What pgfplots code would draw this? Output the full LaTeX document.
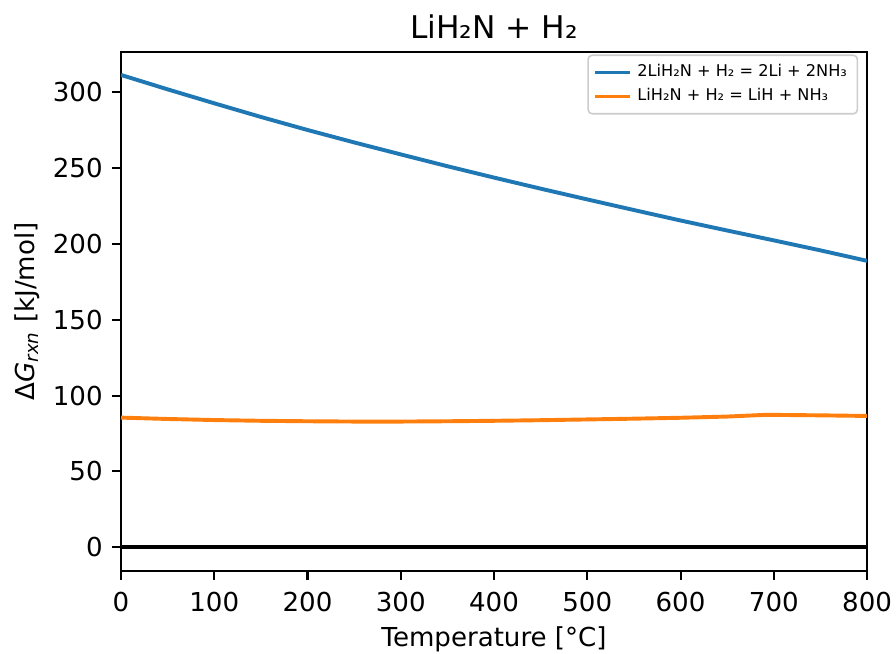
\documentclass[border=0pt]{standalone}
\usepackage{pgfplots}
\pgfplotsset{compat=1.18}
\usepackage{fontspec}
\setmainfont{DejaVu Sans}
\usetikzlibrary{calc}
\definecolor{tabblue}{HTML}{1F77B4}
\definecolor{taborange}{HTML}{FF7F0E}
\begin{document}
\begin{tikzpicture}
\begin{axis}[
  scale only axis,
  width=286.1pt, height=199.0pt,
  xmin=0, xmax=800,
  ymin=-15.56, ymax=326.7,
  xtick={0,100,...,800},
  ytick={0,50,...,300},
  xtick pos=left, ytick pos=left,
  tick align=outside,
  major tick length=3.5pt,
  every tick/.style={black, line width=0.8pt},
  axis line style={line width=0.8pt},
  tick label style={font=\fontsize{10}{12}\selectfont},
  /pgf/number format/assume math mode=true,
  xticklabel style={yshift=-1pt},
  title={LiH₂N + H₂},
  title style={font=\fontsize{12}{14}\selectfont, yshift=-4.5pt},
  xlabel={Temperature [°C]},
  ylabel={Δ\textit{G}\textsubscript{\textit{rxn}} [kJ/mol]},
  label style={font=\fontsize{10}{12}\selectfont},
  xlabel style={yshift=1pt},
  ylabel style={yshift=-2pt},
  legend style={
    at={(rel axis cs:0.988,0.995)}, anchor=north east,
    font=\fontsize{6.2}{7.5}\selectfont,
    draw=black!20, rounded corners=1.5pt, line width=0.6pt,
    inner xsep=2pt, inner ysep=1.5pt,
    row sep=-1pt,
  },
  legend cell align=left,
  legend image code/.code={\draw[#1] (0pt,0pt) -- (13.4pt,0pt);},
]
\addplot[tabblue, line width=1.5pt] coordinates {
(0,311.5) (50,302.0) (100,292.8) (150,283.8) (200,275.2) (250,267.0) (300,259.1)
(350,251.3) (400,243.8) (450,236.5) (500,229.4) (550,222.4) (600,215.5)
(650,208.9) (700,202.4) (750,195.8) (800,188.9)
};
\addlegendentry{2LiH₂N + H₂ = 2Li + 2NH₃}
\addplot[taborange, line width=1.5pt] coordinates {
(0,85.5) (50,84.6) (100,83.9) (150,83.4) (200,83.1) (250,82.9) (300,82.9)
(350,83.1) (400,83.4) (450,83.8) (500,84.3) (550,84.8) (600,85.4)
(650,86.2) (690,87.3) (700,87.3) (750,87.0) (800,86.6)
};
\addlegendentry{LiH₂N + H₂ = LiH + NH₃}
\addplot[black, line width=1.5pt, forget plot] coordinates {(0,0) (800,0)};
\end{axis}
\pgfresetboundingbox
\path[use as bounding box] ($(current axis.south west)+(-46.4pt,-31.8pt)$) rectangle ($(current axis.north east)+(11.1pt,19.9pt)$);
\end{tikzpicture}
\end{document}
